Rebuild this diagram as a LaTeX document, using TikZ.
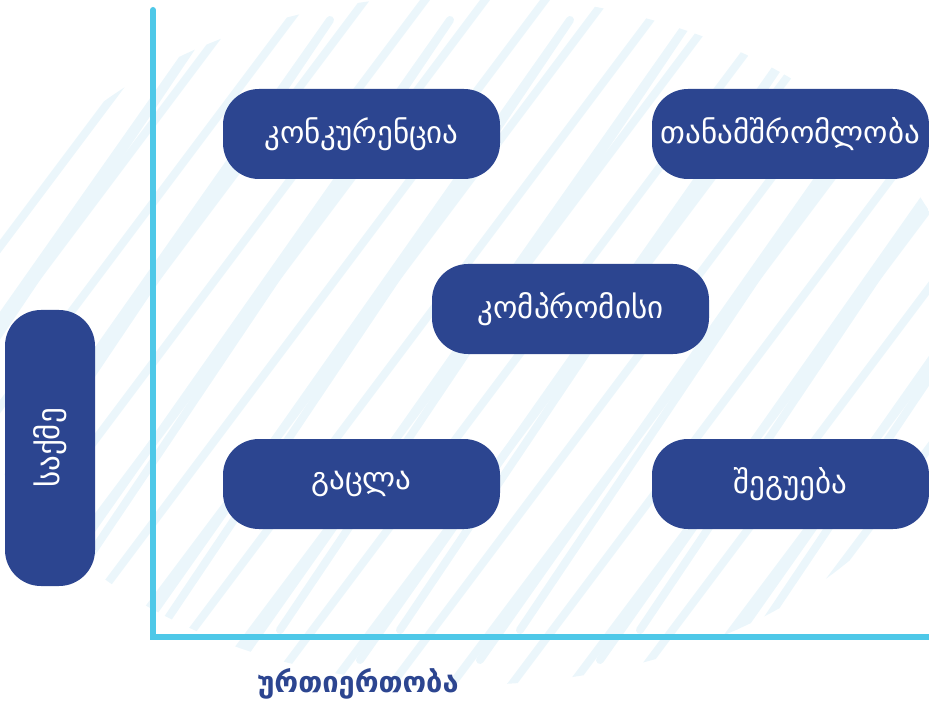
\documentclass[tikz,border=0pt]{standalone}
\usepackage{fontspec}
\newfontfamily\geo{DejaVu Sans}
\definecolor{boxblue}{HTML}{2C4590}
\definecolor{axisblue}{HTML}{4EC8E8}
\definecolor{scrib}{HTML}{EBF6FB}
\tikzset{
  quad/.style={fill=boxblue, rounded corners=36pt, minimum width=277pt, minimum height=90pt, inner sep=0pt, text=white, font=\geo\fontsize{31}{31}\selectfont},
  axisline/.style={draw=axisblue, line width=6pt, line cap=round},
  scribble/.style={draw=scrib, line width=8pt, line cap=round, line join=round}
}
\begin{document}
\begin{tikzpicture}[x=1pt,y=-1pt]
\useasboundingbox (0,0) rectangle (929,703);
% background scribble
\begin{scope}
\clip (465,340) ellipse [x radius=500pt, y radius=345pt];
\foreach \i in {-700,-640,...,1100}{
  \draw[scribble] (\i,700) -- (\i+540,-20);
}
\foreach \i in {-620,-500,...,1100}{
  \draw[scribble] (\i+20,660) -- (\i+470,20) -- (\i+60,630);
}
\end{scope}
% axes
\coordinate (top) at (153,10);
\coordinate (origin) at (153,637);
\coordinate (right) at (929,637);
\draw[axisline] (top) -- (origin) -- (right);
% boxes
\node[quad] (comp) at (361.5,134) {კონკურენცია};
\node[quad] (coll) at (790.5,134) {თანამშრომლობა};
\node[quad] (compr) at (570.5,309) {კომპრომისი};
\node[quad] (avoid) at (361.5,484) {გაცლა};
\node[quad] (acc) at (790.5,484) {შეგუება};
\node[quad, minimum width=90pt, minimum height=276pt] (task) at (50,448) {};
\node[text=white, font=\geo\fontsize{31}{31}\selectfont, rotate=90] (tasklbl) at (task.center) {საქმე};
\node[text=boxblue, font=\geo\bfseries\fontsize{29}{29}\selectfont] (rel) at (358,684) {ურთიერთობა};
\end{tikzpicture}
\end{document}
